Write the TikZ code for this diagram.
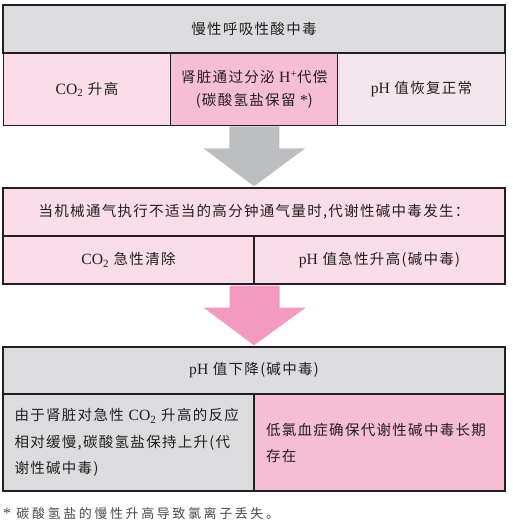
\documentclass[tikz,border=0pt]{standalone}
\usepackage{fontspec}
\setmainfont[Scale=1.08]{Liberation Serif}
\newfontfamily\cjk[LetterSpace=9]{Noto Sans CJK SC}
\newfontfamily\cjkfoot[LetterSpace=20]{Noto Sans CJK SC}
\usetikzlibrary{calc}
\definecolor{ink}{HTML}{231F20}
\definecolor{hdrgray}{HTML}{DCDCDE}
\definecolor{lightpink}{HTML}{FADDE8}
\definecolor{midpink}{HTML}{F6BED5}
\definecolor{palepink}{HTML}{F3E5EC}
\definecolor{arrowgray}{HTML}{BDBEC0}
\definecolor{arrowpink}{HTML}{F499C0}
\definecolor{footink}{HTML}{4A4A4A}
\newcommand{\latn}[1]{{\rmfamily #1}}
\tikzset{
  cell/.style={draw=ink, line width=1.4pt, inner sep=0pt, align=center, anchor=center},
  widecell/.style={cell, minimum width=502pt, minimum height=48pt},
  thirdcell/.style={cell, minimum width=167.5pt, minimum height=72.5pt},
  halfcell/.style={cell, minimum width=251pt, minimum height=48pt},
  tallhalf/.style={cell, minimum width=251pt, minimum height=97pt},
}
\begin{document}
\begin{tikzpicture}[x=1pt,y=-1pt, font=\cjk\fontsize{14.5}{26}\selectfont, text=ink]
\useasboundingbox (0,0) rectangle (512,522);
% block 1
\node[widecell, fill=hdrgray] (t1) at (254,29) {慢性呼吸性酸中毒};
\node[thirdcell, fill=lightpink] (a1) at (87,89.3) {\latn{CO\textsubscript{2}} 升高};
\node[thirdcell, fill=midpink, font=\cjk\fontsize{14.5}{23}\selectfont] (a2) at (254.3,89.3) {肾脏通过分泌 \latn{H\textsuperscript{+}}代偿\\(碳酸氢盐保留 \latn{*})};
\node[thirdcell, fill=palepink] (a3) at (421.5,89.3) {\latn{pH} 值恢复正常};
% block 2
\node[widecell, fill=lightpink] (t2) at (254,212) {当机械通气执行不适当的高分钟通气量时,代谢性碱中毒发生：};
\node[halfcell, fill=lightpink] (b1) at (128.5,260) {\latn{CO\textsubscript{2}} 急性清除};
\node[halfcell, fill=lightpink] (b2) at (379.5,260) {\latn{pH} 值急性升高(碱中毒)};
% block 3
\node[widecell, fill=hdrgray, minimum height=47pt] (t3) at (254,370.5) {\latn{pH} 值下降(碱中毒)};
\node[tallhalf, fill=hdrgray, text width=228pt, align=left, font=\cjk\fontsize{14.5}{26.5}\selectfont] (c1) at (128.5,442.5) {由于肾脏对急性 \latn{CO\textsubscript{2}} 升高的反应\\相对缓慢,碳酸氢盐保持上升(代\\谢性碱中毒)};
\node[tallhalf, fill=midpink, text width=227pt, align=left, font=\cjk\fontsize{14.5}{26}\selectfont] (c2) at (379.5,442.5) {低氯血症确保代谢性碱中毒长期\\存在};
% arrows
\fill[arrowgray] ($(a2.south)+(-25,0)$) -- ($(a2.south)+(25,0)$) -- ($(a2.south)+(25,22)$) -- ($(a2.south)+(51,22)$) -- ($(t2.north)+(0,-1)$) -- ($(a2.south)+(-51,22)$) -- ($(a2.south)+(-25,22)$) -- cycle;
\fill[arrowpink] ($(b1.south east)+(-25,0.8)$) -- ($(b1.south east)+(25,0.8)$) -- ($(b1.south east)+(25,23)$) -- ($(b1.south east)+(51,23)$) -- ($(t3.north)+(0,-1)$) -- ($(b1.south east)+(-51,23)$) -- ($(b1.south east)+(-25,23)$) -- cycle;
% footnote
\node[anchor=west, inner sep=0pt, text=footink, font=\cjkfoot\fontsize{13}{15}\selectfont] (fn) at (3,514) {{\rmfamily\Large *} 碳酸氢盐的慢性升高导致氯离子丢失。};
\end{tikzpicture}
\end{document}
